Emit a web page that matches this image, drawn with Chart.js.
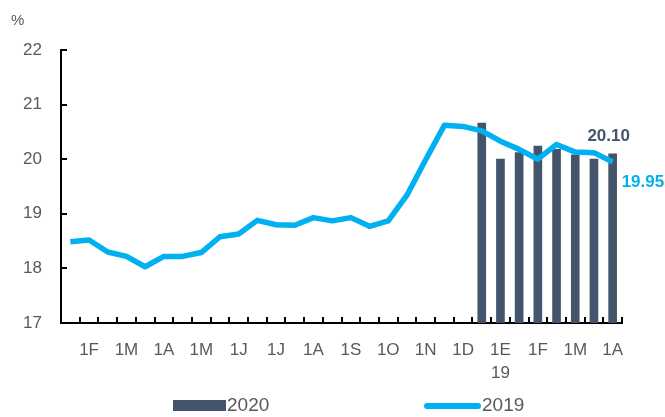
<!DOCTYPE html>
<html>
<head>
<meta charset="utf-8">
<script src="https://cdn.jsdelivr.net/npm/chart.js@4.4.1/dist/chart.umd.min.js"></script>
<style>
  html, body { margin: 0; padding: 0; background: #ffffff; }
  #wrap { position: relative; width: 665px; height: 417px; }
</style>
</head>
<body>
<div id="wrap"><canvas id="c" width="665" height="417"></canvas></div>
<script>
// ---- data ----
const categories = ['', '1F', '', '1M', '', '1A', '', '1M', '', '1J', '', '1J', '', '1A', '', '1S', '', '1O', '', '1N', '', '1D', '', ['1E', '19'], '', '1F', '', '1M', '', '1A'];
const series2019 = [18.49, 18.52, 18.30, 18.22, 18.03, 18.22, 18.22, 18.29, 18.58, 18.63, 18.88, 18.80, 18.79, 18.93, 18.87, 18.93, 18.77, 18.87, 19.34, 19.99, 20.62, 20.60, 20.52, 20.33, 20.18, 20.00, 20.27, 20.13, 20.12, 19.95];
const series2020 = [null, null, null, null, null, null, null, null, null, null, null, null, null, null, null, null, null, null, null, null, null, null, 20.66, 20.00, 20.12, 20.24, 20.18, 20.08, 20.00, 20.10];
const yTicks = [17, 18, 19, 20, 21, 22];
const unitLabel = '%';
const lastLabel2020 = '20.10';
const lastLabel2019 = '19.95';

const FONT = "'Liberation Sans', Arial, sans-serif";
const GREY = '#595959';
const DARK = '#44546A';
const CYAN = '#00B0F0';

const decorPlugin = {
  id: 'decor',
  afterDraw(chart) {
    const ctx = chart.ctx;
    const xs = chart.scales.x, ys = chart.scales.y;
    const area = chart.chartArea;
    ctx.save();
    // inward ticks
    ctx.strokeStyle = '#000';
    ctx.lineWidth = 2;
    ctx.beginPath();
    const n = categories.length;
    for (let i = 0; i <= n; i++) {
      let x;
      if (i === 0) x = area.left;
      else if (i === n) x = area.right;
      else x = (xs.getPixelForValue(i - 1) + xs.getPixelForValue(i)) / 2;
      x = Math.round(x);
      ctx.moveTo(x, area.bottom);
      ctx.lineTo(x, area.bottom - 6);
    }
    yTicks.forEach(v => {
      const y = Math.round(ys.getPixelForValue(v));
      ctx.moveTo(area.left, y);
      ctx.lineTo(area.left + 6, y);
    });
    ctx.stroke();

    // unit label
    ctx.fillStyle = GREY;
    ctx.font = '15px ' + FONT;
    ctx.textAlign = 'left';
    ctx.textBaseline = 'middle';
    ctx.fillText(unitLabel, 11, 21);

    // end value labels
    const barMeta = chart.getDatasetMeta(0);
    const lineMeta = chart.getDatasetMeta(1);
    const bEl = barMeta.data[n - 1];
    const lEl = lineMeta.data[n - 1];
    ctx.font = 'bold 17px ' + FONT;
    ctx.fillStyle = DARK;
    ctx.textAlign = 'center';
    ctx.fillText(lastLabel2020, bEl.x - 4, bEl.y - 17);
    ctx.fillStyle = CYAN;
    ctx.textAlign = 'left';
    ctx.fillText(lastLabel2019, lEl.x + 9, lEl.y + 20);

    // legend
    const items = chart.data.datasets;
    const ly = 405;
    ctx.font = '19px ' + FONT;
    ctx.textBaseline = 'middle';
    ctx.fillStyle = items[0].backgroundColor;
    ctx.fillRect(173, ly - 5, 53, 11);
    ctx.fillStyle = GREY;
    ctx.fillText(items[0].label, 227, ly + 1);
    ctx.strokeStyle = items[1].borderColor;
    ctx.lineWidth = 6;
    ctx.lineCap = 'round';
    ctx.beginPath();
    ctx.moveTo(427, ly + 1);
    ctx.lineTo(478, ly + 1);
    ctx.stroke();
    ctx.fillStyle = GREY;
    ctx.fillText(items[1].label, 482, ly + 1);
    ctx.restore();
  }
};

new Chart(document.getElementById('c'), {
  data: {
    labels: categories,
    datasets: [
      {
        type: 'bar',
        label: '2020',
        data: series2020,
        backgroundColor: DARK,
        barThickness: 8,
        order: 2
      },
      {
        type: 'line',
        label: '2019',
        data: series2019,
        borderColor: CYAN,
        backgroundColor: CYAN,
        borderWidth: 5.5,
        pointRadius: 0,
        tension: 0,
        borderJoinStyle: 'round',
        order: 1
      }
    ]
  },
  plugins: [decorPlugin],
  options: {
    responsive: false,
    animation: false,
    devicePixelRatio: 1,
    layout: { padding: { left: 11, right: 43, top: 50, bottom: 0 } },
    plugins: {
      legend: { display: false },
      tooltip: { enabled: false },
      title: { display: false }
    },
    scales: {
      x: {
        type: 'category',
        offset: true,
        grid: { display: false, drawTicks: false },
        border: { display: true, color: '#000', width: 2 },
        ticks: {
          autoSkip: false,
          maxRotation: 0,
          minRotation: 0,
          color: GREY,
          padding: 15,
          font: { family: FONT, size: 17, lineHeight: 1.4 }
        },
        afterFit(s) { s.height = 94; }
      },
      y: {
        type: 'linear',
        min: 17,
        max: 22,
        grid: { display: false, drawTicks: false },
        border: { display: true, color: '#000', width: 2 },
        afterBuildTicks(s) { s.ticks = yTicks.map(v => ({ value: v })); },
        ticks: {
          color: GREY,
          padding: 19,
          font: { family: FONT, size: 17 }
        },
        afterFit(s) { s.width = 50; }
      }
    }
  }
});
</script>
</body>
</html>
